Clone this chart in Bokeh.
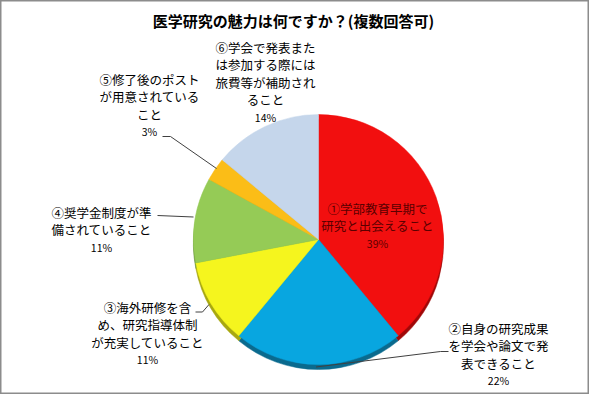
import numpy as np
from bokeh.plotting import figure
from bokeh.models import ColumnDataSource, Range1d
from bokeh.core.properties import value
from bokeh.embed import file_html
from bokeh.resources import INLINE

W, H = 589, 394

title = "医学研究の魅力は何ですか？(複数回答可)"
values = [39, 22, 11, 11, 3, 14]
pct_labels = ["39%", "22%", "11%", "11%", "3%", "14%"]
label_lines = [
    ["①学部教育早期で", "研究と出会えること"],
    ["②自身の研究成果", "を学会や論文で発", "表できること"],
    ["③海外研修を含", "め、研究指導体制", "が充実していること"],
    ["④奨学金制度が準", "備されていること"],
    ["⑤修了後のポスト", "が用意されている", "こと"],
    ["⑥学会で発表また", "は参加する際には", "旅費等が補助され", "ること"],
]
colors = ["#F20F0F", "#08A6E0", "#F5F51E", "#95CB56", "#FBBD17", "#C5D6EB"]
rim_colors = ["#A00808", "#0A6A8E", "#A8A810", "#5F8A30", "#B08010", "#8A9AB0"]
text_colors = ["#5A0000", "#000000", "#000000", "#000000", "#000000", "#000000"]

# layout (pixel coordinates from top-left)
cx, cy, r = 318, 239, 125
label_x = [377, 498, 147, 101, 149, 265]
label_y0 = [208, 328, 307, 212, 79, 47]
line_gap = 17.4
leaders = [
    None,
    ([315.5, 440, 448], [366.5, 351, 351]),
    ([195, 202, 208.5], [311.5, 311.5, 304]),
    ([157, 193], [215, 216.5]),
    ([162, 170, 216], [136, 136, 168]),
    None,
]

def Y(y):
    return H - np.asarray(y, dtype=float)

p = figure(width=W, height=H, x_range=Range1d(0, W), y_range=Range1d(0, H),
           x_axis_type=None, y_axis_type=None, toolbar_location=None,
           output_backend="svg", min_border=0)
p.grid.visible = False
p.background_fill_color = "white"
p.border_fill_color = "white"
p.outline_line_color = "#8C8C8C"
p.outline_line_width = 2

vals = np.array(values, dtype=float)
cum = np.cumsum(vals) / vals.sum()
prev = np.concatenate([[0], cum[:-1]])
start = np.pi / 2 - prev * 2 * np.pi
end = np.pi / 2 - cum * 2 * np.pi

rim = ColumnDataSource(dict(x=[cx] * len(vals), y=list(Y([cy + 5] * len(vals))),
                            s=start, e=end, c=rim_colors))
p.wedge(x="x", y="y", radius=r, start_angle="s", end_angle="e", direction="clock",
        fill_color="c", line_color="c", line_width=0.5, source=rim)

src = ColumnDataSource(dict(x=[cx] * len(vals), y=list(Y([cy] * len(vals))),
                            s=start, e=end, c=colors))
p.wedge(x="x", y="y", radius=r, start_angle="s", end_angle="e", direction="clock",
        fill_color="c", line_color="c", line_width=0.5, source=src)

# leader lines
for ld in leaders:
    if ld is None:
        continue
    p.line(ld[0], list(Y(ld[1])), line_color="#404040", line_width=1)

# labels
tx, ty, tt, tc = [], [], [], []
px, py, pt, pc = [], [], [], []
for i, lines in enumerate(label_lines):
    for j, s in enumerate(lines):
        tx.append(label_x[i]); ty.append(label_y0[i] + j * line_gap)
        tt.append(s); tc.append(text_colors[i])
    px.append(label_x[i]); py.append(label_y0[i] + len(lines) * line_gap)
    pt.append(pct_labels[i]); pc.append(text_colors[i])

p.text(x=tx, y=list(Y(ty)), text=tt, text_color=tc, text_align="center",
       text_baseline="middle", text_font=value("Noto Sans CJK JP"),
       text_font_size="12.5px")
p.text(x=px, y=list(Y(py)), text=pt, text_color=pc, text_align="center",
       text_baseline="middle", text_font=value("Noto Sans CJK JP"),
       text_font_size="10.5px")

p.text(x=[293], y=list(Y([20])), text=[title], text_align="center",
       text_baseline="middle", text_font=value("Noto Sans CJK JP"),
       text_font_size="15px", text_font_style="bold", text_color="#000000")

open("out.html", "w").write(file_html(p, INLINE))
